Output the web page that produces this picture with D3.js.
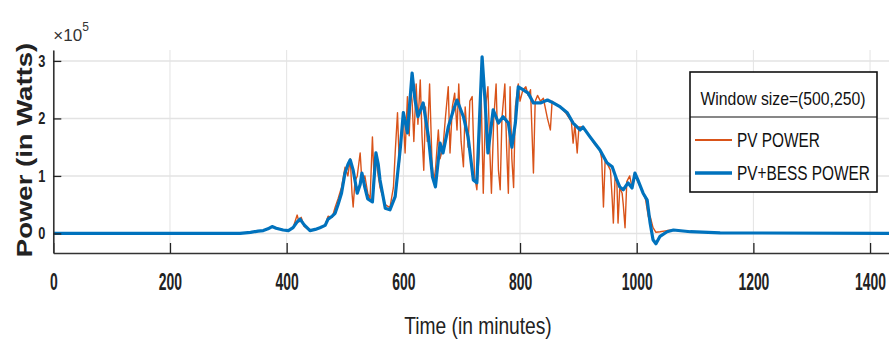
<!DOCTYPE html>
<html>
<head>
<meta charset="utf-8">
<script src="https://cdn.jsdelivr.net/npm/d3@7"></script>
<style>
  body { margin: 0; background: #fff; }
  svg { display: block; font-family: "Liberation Sans", Arial, sans-serif; }
</style>
</head>
<body>
<div id="chart"></div>
<script>
// ---- Data (power in units of 1e5 W, time in minutes)
const timeBess = [0, 320, 338, 351, 360, 368, 375, 382, 394, 403, 411, 418, 423, 430, 440, 449, 457, 466, 471, 478,
  483, 488, 494, 500, 505, 509, 514, 521, 526, 529, 534, 539, 547, 553, 557, 560, 569, 577, 586, 595,
  600, 607, 615, 620, 625, 634, 643, 650, 655, 663, 668, 677, 686, 692, 703, 711, 720, 726, 735, 740,
  745, 754, 763, 771, 780, 786, 792, 797, 805, 814, 823, 835, 847, 857, 869, 881, 891, 903, 908, 920,
  937, 949, 958, 966, 971, 977, 985, 992, 997, 1002, 1011, 1018, 1023, 1028, 1033, 1040, 1052, 1063, 1092, 1143, 1440];
const powerBess = [0, 0, 0.02, 0.04, 0.05, 0.08, 0.12, 0.09, 0.06, 0.05, 0.1, 0.2, 0.25, 0.15, 0.05, 0.07, 0.1, 0.14, 0.25, 0.3,
  0.35, 0.5, 0.7, 1.05, 1.2, 1.28, 1.1, 0.7, 0.85, 1.05, 0.8, 0.6, 0.55, 1.4, 1.2, 0.93, 0.44, 0.41, 0.64, 1.5,
  2.1, 1.75, 2.79, 2.32, 2.03, 2.27, 1.68, 0.98, 0.81, 1.57, 1.4, 1.85, 2.15, 2.32, 2.03, 1.68, 0.93, 0.88, 3.07, 2.32,
  1.4, 2.15, 1.92, 2.03, 1.92, 1.5, 1.92, 2.55, 2.5, 2.44, 2.27, 2.27, 2.32, 2.27, 2.2, 2.1, 1.92, 1.8, 1.85, 1.68,
  1.45, 1.23, 1.16, 0.93, 0.81, 0.76, 0.88, 0.79, 1.05, 0.93, 0.7, 0.58, 0.18, -0.11, -0.18, -0.05, 0.03, 0.06, 0.03, 0.01, 0];

const timePv = [0, 320, 338, 360, 375, 394, 403, 411, 418, 421, 425, 430, 440, 457, 466, 471, 478, 483, 488, 494,
  500, 505, 509, 512, 514, 517, 521, 526, 529, 534, 539, 543, 547, 550, 553, 557, 560, 569, 577, 583,
  586, 590, 593, 597, 600, 603, 607, 610, 613, 615, 618, 622, 625, 629, 632, 635, 638, 641, 645, 649,
  652, 655, 660, 663, 668, 672, 677, 680, 684, 688, 692, 695, 699, 703, 706, 711, 714, 718, 722, 726,
  730, 733, 737, 741, 745, 748, 751, 755, 759, 763, 766, 769, 774, 777, 780, 783, 786, 789, 792, 797,
  800, 805, 810, 814, 818, 823, 826, 830, 835, 840, 847, 852, 855, 861, 869, 878, 888, 891, 894, 898,
  901, 908, 915, 920, 928, 937, 940, 943, 946, 950, 955, 958, 960, 963, 966, 968, 971, 975, 977, 980,
  983, 988, 992, 997, 1002, 1011, 1015, 1020, 1023, 1028, 1033, 1040, 1052, 1063, 1092, 1143, 1440];
const powerPv = [0, 0, 0.02, 0.05, 0.12, 0.06, 0.05, 0.1, 0.32, 0.2, 0.28, 0.12, 0.05, 0.1, 0.15, 0.3, 0.28, 0.45, 0.6, 0.8,
  1.15, 1.0, 1.3, 0.7, 0.46, 0.9, 1.0, 1.4, 0.9, 1.0, 0.7, 0.6, 1.68, 0.9, 1.3, 1.0, 0.8, 0.5, 0.45, 0.8,
  1.4, 2.1, 1.2, 1.8, 2.0, 1.4, 2.38, 1.7, 2.5, 2.3, 1.6, 2.6, 1.9, 2.67, 1.7, 1.1, 2.2, 1.6, 2.6, 1.28,
  0.9, 1.1, 1.8, 1.3, 1.5, 2.0, 2.55, 1.4, 2.2, 2.44, 1.8, 2.6, 1.6, 1.16, 2.2, 1.5, 2.3, 2.38, 1.0, 0.76,
  1.4, 2.6, 0.7, 2.2, 2.55, 1.5, 0.7, 2.0, 2.6, 1.1, 0.76, 2.0, 2.6, 1.5, 0.7, 2.55, 1.3, 0.8, 2.2, 2.6,
  2.3, 2.5, 2.55, 2.4, 2.5, 1.05, 2.3, 2.4, 2.3, 2.35, 2.0, 1.8, 2.3, 2.25, 2.2, 2.1, 1.95, 1.57, 1.9, 1.4,
  1.85, 1.85, 1.75, 1.68, 1.55, 1.45, 1.3, 0.46, 1.3, 1.2, 1.1, 0.6, 0.18, 1.0, 0.9, 0.18, 0.8, 0.7, 0.5, 0.1,
  0.9, 1.0, 0.8, 1.0, 0.9, 0.7, 0.6, 0.29, 0.3, 0.1, 0.02, 0.03, 0.05, 0.06, 0.03, 0.01, 0];

const xTicks = [0, 200, 400, 600, 800, 1000, 1200, 1400];
const yTicks = [0, 1, 2, 3];
const seriesNames = ['PV POWER', 'PV+BESS POWER'];
const legendTitle = 'Window size=(500,250)';

const W = 889, H = 343;
const margin = { left: 53.3, top: 50, bottom: 90 };
const pvColor = '#D95319', bessColor = '#0072BD';

const svg = d3.select('#chart').append('svg').attr('width', W).attr('height', H);

const x = d3.scaleLinear().domain([0, 1440]).range([margin.left, margin.left + 1440 * 0.5834]);
const y = d3.scaleLinear().domain([-0.34, 3.19]).range([H - margin.bottom, margin.top]);
const [x0, x1] = x.range();
const [yb, yt] = y.range();

svg.append('clipPath').attr('id', 'plotClip')
  .append('rect').attr('x', x0).attr('y', yt).attr('width', x1 - x0).attr('height', yb - yt);

// ---- Grid
svg.append('g').selectAll('line').data(xTicks).join('line')
  .attr('x1', d => x(d)).attr('x2', d => x(d)).attr('y1', yt).attr('y2', yb)
  .attr('stroke', '#e3e3e3').attr('stroke-width', 1);
svg.append('g').selectAll('line').data(yTicks).join('line')
  .attr('x1', x0).attr('x2', x1).attr('y1', d => y(d)).attr('y2', d => y(d))
  .attr('stroke', '#e3e3e3').attr('stroke-width', 1.5);

// ---- Lines
const line = d3.line().x(d => x(d[0])).y(d => y(d[1]));
const plot = svg.append('g').attr('clip-path', 'url(#plotClip)');
plot.append('path').datum(d3.zip(timePv, powerPv))
  .attr('d', line).attr('fill', 'none').attr('stroke', pvColor).attr('stroke-width', 1.4)
  .attr('stroke-linejoin', 'round');
plot.append('path').datum(d3.zip(timeBess, powerBess))
  .attr('d', line).attr('fill', 'none').attr('stroke', bessColor).attr('stroke-width', 3.2)
  .attr('stroke-linejoin', 'round');

// ---- Axes
const xAxis = svg.append('g').attr('transform', `translate(0,${yb})`)
  .call(d3.axisBottom(x).tickValues(xTicks).tickFormat(d3.format('d')).tickSizeInner(-10).tickSizeOuter(0).tickPadding(20));
xAxis.select('.domain').attr('stroke', '#333').attr('stroke-width', 1.6);
xAxis.selectAll('.tick line').attr('stroke', '#222').attr('stroke-width', 1.3);
xAxis.selectAll('.tick text')
  .attr('fill', '#222').style('font-size', '24px').style('font-weight', 'bold')
  .attr('transform', 'scale(0.58,1)');

const yAxis = svg.append('g').attr('transform', `translate(${x0},0)`)
  .call(d3.axisLeft(y).tickValues(yTicks).tickFormat(d3.format('d')).tickSizeInner(-8).tickSizeOuter(0).tickPadding(8));
yAxis.select('.domain').attr('stroke', '#333').attr('stroke-width', 1.6);
yAxis.selectAll('.tick line').attr('stroke', '#222').attr('stroke-width', 1.3);
yAxis.selectAll('.tick text')
  .attr('fill', '#222').style('font-size', '17px').style('font-weight', 'bold')
  .attr('x', -8 / 0.75).attr('transform', 'scale(0.75,1)');

// ---- Exponent label
const expo = svg.append('text').attr('x', x0).attr('y', 41).attr('fill', '#333').style('font-size', '17px');
expo.append('tspan').text('\u00d710');
expo.append('tspan').attr('dy', -10).style('font-size', '12px').text('5');

// ---- Axis titles
svg.append('text')
  .attr('transform', `translate(478,334) scale(0.8,1)`)
  .attr('text-anchor', 'middle').attr('fill', '#222')
  .style('font-size', '24px')
  .text('Time (in minutes)');

svg.append('text')
  .attr('transform', `translate(32,150) rotate(-90) scale(1.1,0.9)`)
  .attr('text-anchor', 'middle').attr('fill', '#222')
  .style('font-size', '25px').style('font-weight', 'bold')
  .text('Power (in Watts)');

// ---- Legend
const lg = svg.append('g');
lg.append('rect').attr('x', 690).attr('y', 72).attr('width', 187).attr('height', 120)
  .attr('fill', '#fff').attr('stroke', '#111').attr('stroke-width', 1.6);
lg.append('line').attr('x1', 690).attr('x2', 877).attr('y1', 117).attr('y2', 117)
  .attr('stroke', '#111').attr('stroke-width', 1.2);
lg.append('text').attr('transform', 'translate(783,105) scale(0.83,1)')
  .attr('text-anchor', 'middle').attr('fill', '#111').style('font-size', '19px')
  .text(legendTitle);
const entries = [
  { name: seriesNames[0], color: pvColor, width: 2, yy: 140 },
  { name: seriesNames[1], color: bessColor, width: 3.5, yy: 173 }
];
entries.forEach(e => {
  lg.append('line').attr('x1', 695).attr('x2', 732).attr('y1', e.yy).attr('y2', e.yy)
    .attr('stroke', e.color).attr('stroke-width', e.width);
  lg.append('text').attr('transform', `translate(737,${e.yy + 7}) scale(0.77,1)`)
    .attr('fill', '#111').style('font-size', '20px').text(e.name);
});
</script>
</body>
</html>
